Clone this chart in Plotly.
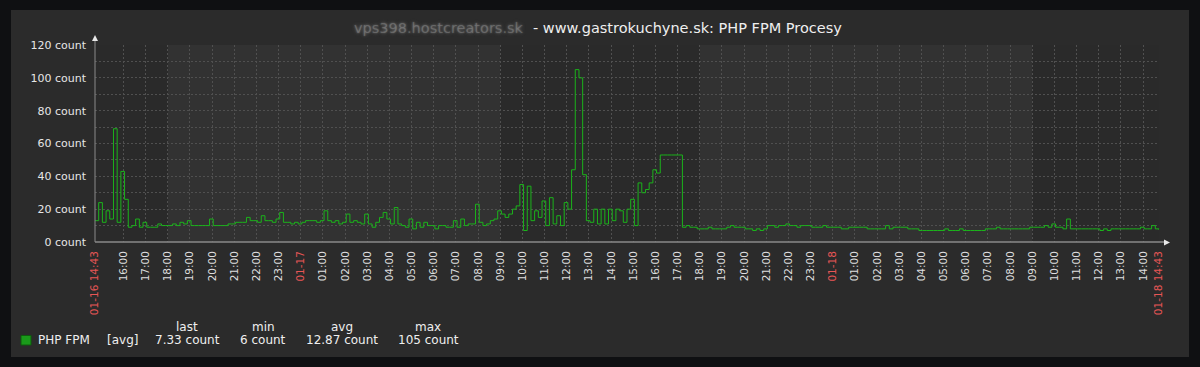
import pandas as pd
import plotly.graph_objects as go

# ---------------- data ----------------
title_host = "vps398.hostcreators.sk"
title_rest = "- www.gastrokuchyne.sk: PHP FPM Procesy"
series_name = "PHP FPM"
period_start = "2024-01-16 14:43"
period_end = "2024-01-18 14:43"
sample_step = "10min"

# PHP FPM process count, one value per 10 minutes
values_day1 = [
    13, 24, 12, 19, 14, 69, 12, 43, 26, 9, 10, 14,
    9, 12, 9, 9, 9, 11, 10, 10, 10, 11, 10, 12,
    11, 13, 10, 10, 10, 10, 10, 14, 10, 10, 10, 10,
    11, 11, 12, 12, 12, 15, 13, 13, 12, 16, 13, 13,
    12, 14, 18, 12, 12, 11, 12, 11, 12, 13, 13, 13,
    12, 13, 19, 13, 12, 13, 11, 12, 17, 12, 13, 12,
]
values_day2 = [
    11, 17, 11, 9, 12, 15, 18, 14, 11, 21, 11, 10,
    9, 14, 8, 12, 9, 12, 10, 10, 8, 10, 10, 9,
    9, 13, 9, 14, 10, 11, 11, 23, 12, 10, 11, 13,
    14, 19, 17, 15, 17, 20, 22, 35, 7, 34, 13, 19,
    15, 25, 10, 27, 11, 16, 10, 24, 20, 44, 105, 100,
    41, 13, 12, 20, 11, 20, 11, 20, 13, 20, 19, 12,
]
values_day3 = [
    20, 26, 10, 36, 30, 32, 36, 44, 42, 53, 53, 53,
    53, 53, 53, 9, 10, 9, 9, 8, 8, 8, 9, 8,
    8, 8, 8, 9, 10, 9, 9, 9, 8, 8, 7, 8,
    7, 8, 10, 10, 9, 10, 10, 11, 10, 10, 9, 10,
    10, 10, 9, 9, 9, 10, 9, 9, 9, 9, 8, 8,
    9, 9, 9, 9, 9, 8, 8, 8, 8, 8, 10, 8,
]
values_day4 = [
    9, 9, 9, 9, 8, 8, 8, 7, 7, 7, 7, 7,
    7, 7, 8, 7, 7, 7, 8, 7, 7, 7, 7, 7,
    7, 8, 8, 8, 9, 8, 8, 8, 8, 8, 8, 8,
    8, 9, 9, 9, 9, 10, 9, 11, 9, 9, 8, 14,
    8, 8, 8, 8, 8, 8, 8, 8, 7, 8, 7, 8,
    8, 8, 8, 8, 8, 8, 8, 9, 8, 8, 10, 8,
    7.33,
]

# working-time periods (darker background)
work_periods = [
    ("2024-01-16 14:43", "2024-01-16 18:00"),
    ("2024-01-17 09:00", "2024-01-17 18:00"),
    ("2024-01-18 09:00", "2024-01-18 14:43"),
]
# non-working periods (lighter background)
free_periods = [
    ("2024-01-16 18:00", "2024-01-17 09:00"),
    ("2024-01-17 18:00", "2024-01-18 09:00"),
]

legend_headers = ["last", "min", "avg", "max"]
legend_values = ["7.33 count", "6 count", "12.87 count", "105 count"]
legend_func = "[avg]"

# ---------------- styles ----------------
FONT = "DejaVu Sans"
LINE_GREEN = "#1bb31b"
LEGEND_GREEN = "#1a9a1a"
DATE_RED = "#e85656"
TICK_GRAY = "#dedede"
GRID = "#505050"
OUTER = "#0f1012"
PANEL = "#2b2b2b"
WORK_BG = "#2a2a2a"
FREE_BG = "#323232"
AXIS = "#8a8a8a"

values = values_day1 + values_day2 + values_day3 + values_day4
times = pd.date_range(period_start, periods=len(values), freq=sample_step)

t0 = pd.Timestamp(period_start)
t1 = pd.Timestamp(period_end)
hours = pd.date_range("2024-01-16 16:00", "2024-01-18 14:00", freq="1h")
tick_vals = [t0] + list(hours) + [t1]
tick_text = []
for t in tick_vals:
    if t == t0 or t == t1:
        tick_text.append(f'<span style="color:{DATE_RED}">{t.strftime("%m-%d %H:%M")}</span>')
    elif t.hour == 0:
        tick_text.append(f'<span style="color:{DATE_RED}">{t.strftime("%m-%d")}</span>')
    else:
        tick_text.append(t.strftime("%H:%M"))

# plot area in pixels
L, R, T, B = 95, 1159, 45, 242
W, H = 1200, 367


def px(x):
    return (x - L) / (R - L)


def py(y):
    return (B - y) / (B - T)


fig = go.Figure()
fig.add_trace(go.Scatter(
    x=times, y=values, mode="lines", line=dict(color=LINE_GREEN, width=1, shape="hv"),
    showlegend=False, hoverinfo="skip",
))

shapes = [
    dict(type="rect", xref="paper", yref="paper", x0=px(11), x1=px(1189), y0=py(357), y1=py(10),
         fillcolor=PANEL, line=dict(width=0), layer="below"),
]
for a, b in free_periods:
    shapes.append(dict(type="rect", xref="x", yref="y", x0=a, x1=b, y0=0, y1=120,
                       fillcolor=FREE_BG, line=dict(width=0), layer="below"))
for a, b in work_periods:
    shapes.append(dict(type="rect", xref="x", yref="y", x0=a, x1=b, y0=0, y1=120,
                       fillcolor=WORK_BG, line=dict(width=0), layer="below"))
# axes with arrows
shapes += [
    dict(type="line", xref="paper", yref="paper", x0=0, x1=0, y0=0, y1=py(38),
         line=dict(color=AXIS, width=1)),
    dict(type="line", xref="paper", yref="paper", x0=0, x1=px(1166), y0=0, y1=0,
         line=dict(color=AXIS, width=1.5)),
    dict(type="path", xref="paper", yref="paper",
         path=f"M {px(95)} {py(35)} L {px(92)} {py(41)} L {px(98)} {py(41)} Z",
         fillcolor="#e8e8e8", line=dict(width=0)),
    dict(type="path", xref="paper", yref="paper",
         path=f"M {px(1170)} {py(242.5)} L {px(1164)} {py(239.5)} L {px(1164)} {py(245.5)} Z",
         fillcolor="#e8e8e8", line=dict(width=0)),
    # legend colour box
    dict(type="rect", xref="paper", yref="paper", x0=px(21), x1=px(31), y0=py(345), y1=py(335.5),
         fillcolor=LEGEND_GREEN, line=dict(color="#0d5e0d", width=1)),
]

annotations = [
    # host name is blurred in the reference: one faint text with a soft glow
    dict(text=title_host, xref="paper", yref="paper", x=px(526), y=py(28),
         xanchor="right", yanchor="middle", showarrow=False,
         font=dict(family=FONT, size=14.5, color="rgba(170,170,170,0.3)",
                   shadow="0px 0px 2px #dcdcdc, 0px 0px 4px #c8c8c8")),
    dict(text=title_rest, xref="paper", yref="paper", x=px(531), y=py(28), xanchor="left",
         yanchor="middle", showarrow=False,
         font=dict(family=FONT, size=14.5, color="#efefef")),
    dict(text=series_name, xref="paper", yref="paper", x=px(36), y=py(340), xanchor="left",
         yanchor="middle", showarrow=False, font=dict(family=FONT, size=12, color="#efefef")),
    dict(text=legend_func, xref="paper", yref="paper", x=px(105), y=py(340), xanchor="left",
         yanchor="middle", showarrow=False, font=dict(family=FONT, size=12, color="#efefef")),
]
legend_centers = [187, 263, 342, 428]
for hdr, val, cx in zip(legend_headers, legend_values, legend_centers):
    annotations.append(dict(text=hdr, xref="paper", yref="paper", x=px(cx), y=py(326.5),
                            xanchor="center", yanchor="middle", showarrow=False,
                            font=dict(family=FONT, size=12, color="#efefef")))
    annotations.append(dict(text=val, xref="paper", yref="paper", x=px(cx), y=py(340),
                            xanchor="center", yanchor="middle", showarrow=False,
                            font=dict(family=FONT, size=12, color="#efefef")))

fig.update_layout(
    width=W, height=H,
    margin=dict(l=L, r=W - R, t=T, b=H - B, pad=0),
    paper_bgcolor=OUTER, plot_bgcolor=FREE_BG,
    shapes=shapes, annotations=annotations,
    showlegend=False,
    xaxis=dict(
        type="date", range=[t0, t1], tickmode="array", tickvals=tick_vals, ticktext=tick_text,
        tickangle=-90, tickfont=dict(family=FONT, size=10.5, color=TICK_GRAY),
        showgrid=True, gridcolor=GRID, griddash="2px,2px", gridwidth=1,
        showline=False, zeroline=False, ticks="", ticklabelstandoff=6,
    ),
    yaxis=dict(
        range=[0, 120], tick0=0, dtick=20, ticksuffix=" count",
        tickfont=dict(family=FONT, size=11, color="#e6e6e6"),
        showgrid=True, gridcolor=GRID, griddash="2px,2px", gridwidth=1,
        minor=dict(dtick=10, showgrid=True, gridcolor=GRID, griddash="2px,2px", gridwidth=1),
        showline=False, zeroline=False, ticks="", ticklabelstandoff=8,
    ),
)

fig.write_html(
    "out.html",
    config={"displayModeBar": False},
    post_script=(
        f"document.body.style.margin='0';"
        f"document.body.style.background='{OUTER}';"
        f"document.documentElement.style.background='{OUTER}';"
    ),
)
